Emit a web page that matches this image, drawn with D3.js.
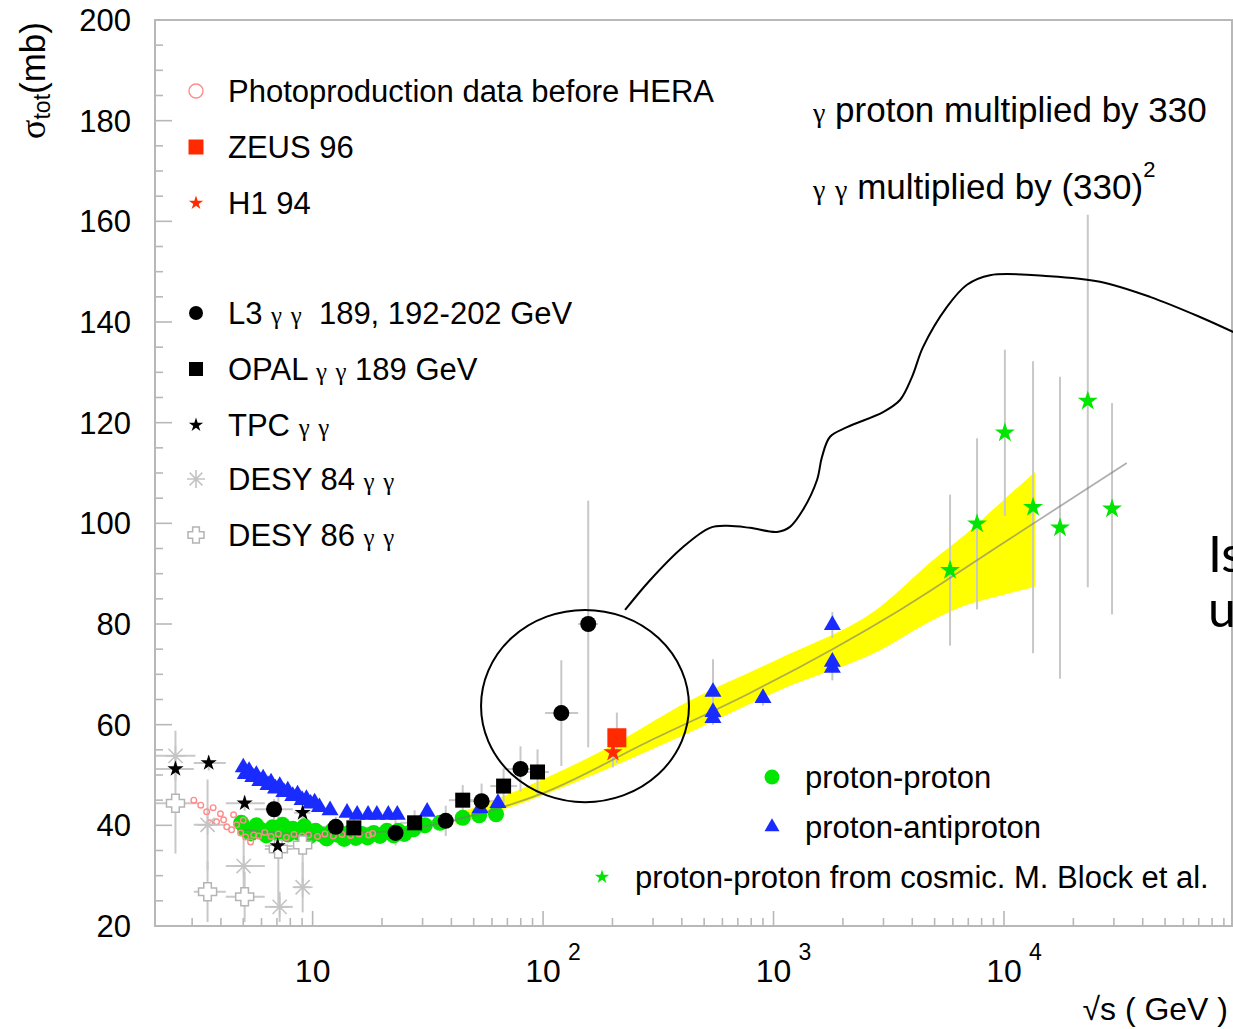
<!DOCTYPE html>
<html>
<head>
<meta charset="utf-8">
<script src="https://cdn.jsdelivr.net/npm/d3@7"></script>
<style>
  html, body { margin: 0; padding: 0; background: #fff; overflow: hidden; }
  svg { display: block; font-family: "Liberation Sans", Arial, Helvetica, sans-serif; }
  text { white-space: pre; }
</style>
</head>
<body>
<div id="chart"></div>
<script>
// ---- data: [sqrt(s) GeV, sigma mb, dSigma, sqrt(s) low, sqrt(s) high] ----
const photoprod = [
  [3.05, 45.0], [3.27, 44.0], [3.47, 42.7], [3.58, 40.5], [3.7, 43.5], [3.83, 40.7],
  [3.98, 42.3], [4.11, 41.1], [4.24, 39.7], [4.45, 39.1], [4.54, 42.1], [4.68, 40.1],
  [4.87, 38.5], [5.0, 41.0], [5.12, 37.7], [5.38, 36.7], [5.55, 38.1], [5.83, 37.9],
  [6.2, 38.6], [6.6, 37.8], [7.1, 38.3], [7.7, 37.6], [8.3, 38.2], [9.0, 37.9],
  [9.6, 38.1], [10.5, 37.8], [11.3, 38.3], [12.3, 37.9], [13.4, 38.2], [14.6, 38.0],
  [15.9, 38.3], [17.5, 38.1], [18.2, 38.4]
];
const zeus96 = [[209, 57.4, 5, 199, 219]];
const h1_94 = [[201, 54.5, 3, 192, 210]];
const l3 = [
  [6.8, 43.2, 2, 5.6, 8.2], [12.6, 39.7, 2, 10.8, 14.8], [22.9, 38.5, 2.5, 19.5, 27],
  [37.8, 40.9, 3, 32, 44], [54.1, 44.8, 3.5, 46, 63], [79.8, 51.2, 4.5, 68, 94],
  [120, 62.3, 10.5, 102, 142], [157, 80.0, 24.5, 142, 173]
];
const opal = [
  [15.1, 39.5, 2, 13, 17.5], [27.7, 40.5, 2.5, 24, 32], [44.8, 45.0, 3, 39, 52],
  [67.4, 47.8, 3.5, 59, 77], [94.6, 50.6, 4.5, 84, 106]
];
const tpc = [
  [2.54, 51.2, 1.5, 2.07, 3.05], [3.54, 52.4, 1.5, 3.05, 4.2], [5.07, 44.4, 1.5, 4.2, 6.2],
  [7.05, 35.9, 2, 6.2, 8.2], [9.05, 42.5, 2, 8.3, 9.8]
];
const desy84 = [
  [2.54, 53.8, 5, 2.07, 3.1], [3.50, 40.1, 9, 3.05, 4.2], [5.02, 31.9, 6, 4.2, 6.2],
  [7.19, 23.8, 3, 6.2, 8.2], [9.05, 27.7, 5, 8.3, 9.8]
];
const desy86 = [
  [2.54, 44.4, 10, 2.07, 3.2], [3.50, 26.8, 6, 3.05, 4.2], [5.07, 25.8, 5, 4.2, 6.2],
  [7.10, 35.3, 11, 6.2, 8.2], [9.05, 36.1, 8, 8.3, 9.8]
];
const protonProton = [
  [4.9, 40.5], [5.1, 39.2], [5.4, 38.4], [5.7, 40.0], [6.0, 39.0], [6.3, 38.0], [6.7, 39.6],
  [7.0, 38.6], [7.4, 40.1], [7.8, 38.2], [8.2, 39.3], [8.7, 38.5], [9.2, 39.8], [9.7, 37.8],
  [10.3, 38.9], [10.9, 38.2], [11.5, 37.4], [12.2, 39.0], [12.9, 38.1], [13.7, 37.3],
  [14.5, 38.6], [15.4, 37.5], [16.3, 38.3], [17.3, 37.6], [18.4, 38.5], [19.6, 37.9],
  [21.0, 38.9], [22.5, 38.0], [23.5, 38.9], [25.0, 38.3], [27.4, 39.2], [30.7, 40.0],
  [35.7, 40.5], [44.8, 41.5], [52.8, 42.0], [62.5, 42.2]
];
const protonAntiproton = [
  [5.0, 51.5], [5.1, 50.2], [5.3, 50.8], [5.5, 49.6], [5.7, 50.0], [5.9, 48.8], [6.1, 49.3],
  [6.4, 48.0], [6.6, 48.5], [6.9, 47.3], [7.2, 47.8], [7.5, 46.6], [7.8, 46.9], [8.2, 45.8],
  [8.6, 46.1], [9.0, 45.0], [9.4, 45.2], [9.8, 44.3], [10.2, 44.5], [10.7, 43.6],
  [11.9, 43.0], [14.1, 42.5], [15.6, 42.1], [17.4, 42.1], [19.0, 42.1], [21.3, 42.1],
  [23.3, 42.1], [31.4, 42.7], [53.3, 43.4], [63.7, 44.4],
  [546, 66.5, 6.5], [546, 62.5, 1.5], [546, 61.3, 1.0], [900, 65.3, 1.5],
  [1800, 79.8, 2.6], [1800, 72.5, 1.0], [1800, 71.3, 2.5]
];
const cosmic = [
  [5834, 90.7, 15], [7640, 99.9, 17], [10090, 118.0, 16.5], [13370, 103.2, 29],
  [17500, 99.1, 30], [23100, 124.3, 37], [29440, 102.9, 21]
];
// fit band and central line
const bandE = [41.5, 87.8, 176.7, 434, 1067, 2897, 4920, 6910, 9608, 13630];
const bandLo = [40.1, 45.0, 50.6, 58.5, 66.9, 74.8, 80.8, 83.8, 85.6, 87.4];
const bandHi = [42.1, 48.0, 54.6, 64.8, 73.2, 83.4, 92.7, 98.1, 104.0, 110.2];
const fitE = [5.09, 8.83, 16.1, 26.5, 41.5, 100, 291, 791, 3538, 10090, 34100];
const fitSigma = [39.1, 38.3, 38.5, 39.3, 41.1, 46.4, 56.8, 66.3, 82.8, 96.3, 112.0];
// hand-drawn annotation (in data coordinates)
const annotationPath = [
  [226.9, 82.8], [291, 88.7], [405, 95.3], [530, 99.1], [628, 99.5], [791, 99.1],
  [1036, 98.3], [1179, 99.3], [1343, 102.7], [1544, 108.6], [1623, 113.2], [1759, 117.2],
  [2084, 119.1], [2987, 122.1], [3538, 124.5], [3990, 129.1], [4453, 135.0], [5657, 143.0],
  [6910, 147.4], [8697, 149.3], [15830, 149.1], [26090, 148.0], [42990, 145.0],
  [70860, 141.0], [105700, 137.4]
];
const circleE = [53.8, 429.6];
const circleSigma = [44.6, 82.8];
// ticks and labels
const yTicks = [20, 40, 60, 80, 100, 120, 140, 160, 180, 200];
const yTickLabels = ['20', '40', '60', '80', '100', '120', '140', '160', '180', '200'];
const xTicks = [10, 100, 1000, 10000];
const xTickExp = ['', '2', '3', '4'];
const legendLeft = [
  'Photoproduction data before HERA', 'ZEUS 96', 'H1 94',
  'L3 γ γ  189, 192-202 GeV', 'OPAL γ γ 189 GeV', 'TPC γ γ', 'DESY 84 γ γ', 'DESY 86 γ γ'
];
const legendRight = ['proton-proton', 'proton-antiproton', 'proton-proton from cosmic. M. Block et al.'];

const W = 1233, H = 1029;
const svg = d3.select('#chart').append('svg').attr('width', W).attr('height', H);

const x = d3.scaleLog().domain([2.07, 97600]).range([155, 1232]);
const y = d3.scaleLinear().domain([20, 200]).range([926, 20]);

const RED = '#ff2a00', GREEN = '#00e600', BLUE = '#1a2bff', GREY = '#c8c8c8';

// marker helpers
const starPath = r => d3.symbol(d3.symbolStar, r * r / 0.8908130915292852)();
const triPath = w => { const h = w / (2 * Math.sqrt(3)); return d3.symbol(d3.symbolTriangle, h * h * 3 * Math.sqrt(3))(); };
const asteriskPath = r => {
  const d = r * 0.7071;
  return `M${-r},0L${r},0M0,${-r}L0,${r}M${-d},${-d}L${d},${d}M${-d},${d}L${d},${-d}`;
};
const openCrossPath = (r, a) =>
  `M${-a},${-r}L${a},${-r}L${a},${-a}L${r},${-a}L${r},${a}L${a},${a}L${a},${r}L${-a},${r}L${-a},${a}L${-r},${a}L${-r},${-a}L${-a},${-a}Z`;

function marker(g, type, cx, cy, s) {
  const t = `translate(${cx},${cy})`;
  switch (type) {
    case 'openCircle':
      g.append('circle').attr('cx', cx).attr('cy', cy).attr('r', s)
        .attr('fill', 'none').attr('stroke', '#ff8c8c').attr('stroke-width', 1.4); break;
    case 'redSquare':
      g.append('rect').attr('x', cx - s / 2).attr('y', cy - s / 2).attr('width', s).attr('height', s).attr('fill', RED); break;
    case 'redStar':
      g.append('path').attr('d', starPath(s)).attr('transform', t).attr('fill', RED); break;
    case 'blackCircle':
      g.append('circle').attr('cx', cx).attr('cy', cy).attr('r', s).attr('fill', '#000'); break;
    case 'blackSquare':
      g.append('rect').attr('x', cx - s / 2).attr('y', cy - s / 2).attr('width', s).attr('height', s).attr('fill', '#000'); break;
    case 'blackStar':
      g.append('path').attr('d', starPath(s)).attr('transform', t).attr('fill', '#000'); break;
    case 'asterisk':
      g.append('path').attr('d', asteriskPath(s)).attr('transform', t)
        .attr('stroke', '#c4c4c4').attr('stroke-width', 1.6).attr('fill', 'none'); break;
    case 'openCross':
      g.append('path').attr('d', openCrossPath(s, s * 0.42)).attr('transform', t)
        .attr('stroke', '#b4b4b4').attr('stroke-width', 1.5).attr('fill', '#fff'); break;
    case 'greenCircle':
      g.append('circle').attr('cx', cx).attr('cy', cy).attr('r', s).attr('fill', GREEN); break;
    case 'blueTriangle':
      g.append('path').attr('d', triPath(s)).attr('transform', t).attr('fill', BLUE); break;
    case 'greenStar':
      g.append('path').attr('d', starPath(s)).attr('transform', t).attr('fill', GREEN); break;
  }
}

function richText(sel, str, size) {
  str.split(/(γ)/).forEach(part => {
    if (!part) return;
    const t = sel.append('tspan').text(part);
    if (part === 'γ') t.style('font-family', '"Liberation Serif", "DejaVu Serif", serif').style('font-size', (size * 0.8) + 'px');
  });
}

// ---- clip to frame ----
svg.append('clipPath').attr('id', 'plot')
  .append('rect').attr('x', 155).attr('y', 20).attr('width', 1077).attr('height', 906);
const plot = svg.append('g').attr('clip-path', 'url(#plot)');

// ---- yellow band ----
const bandData = bandE.map((e, i) => ({ e, lo: bandLo[i], hi: bandHi[i] }));
plot.append('path').datum(bandData)
  .attr('fill', '#ffff00')
  .attr('d', d3.area().x(d => x(d.e)).y0(d => y(d.lo)).y1(d => y(d.hi)).curve(d3.curveMonotoneX));

// ---- error bars ----
const eb = plot.append('g').attr('stroke', GREY).attr('stroke-width', 2);
function errorBars(data) {
  data.forEach(d => {
    if (d[2]) eb.append('line').attr('x1', x(d[0])).attr('x2', x(d[0])).attr('y1', y(d[1] - d[2])).attr('y2', y(d[1] + d[2]));
    if (d[3]) eb.append('line').attr('x1', x(d[3])).attr('x2', x(d[4])).attr('y1', y(d[1])).attr('y2', y(d[1]));
  });
}
[desy86, desy84, tpc, l3, opal, zeus96, h1_94, protonAntiproton, cosmic].forEach(errorBars);

// ---- proton-proton ----
const marks = plot.append('g');
protonProton.forEach(d => marker(marks, 'greenCircle', x(d[0]), y(d[1]), 8));

// ---- fit line ----
plot.append('path').datum(fitE.map((e, i) => [e, fitSigma[i]]))
  .attr('fill', 'none').attr('stroke', '#7a7a7a').attr('stroke-opacity', 0.6).attr('stroke-width', 1.8)
  .attr('d', d3.line().x(d => x(d[0])).y(d => y(d[1])).curve(d3.curveMonotoneX));

const marks2 = plot.append('g');
protonAntiproton.forEach(d => marker(marks2, 'blueTriangle', x(d[0]), y(d[1]), 17));
photoprod.forEach(d => marker(marks2, 'openCircle', x(d[0]), y(d[1]), 2.8));
desy84.forEach(d => marker(marks2, 'asterisk', x(d[0]), y(d[1]), 10));
desy86.forEach(d => marker(marks2, 'openCross', x(d[0]), y(d[1]), 9));
tpc.forEach(d => marker(marks2, 'blackStar', x(d[0]), y(d[1]), 8.5));
l3.forEach(d => marker(marks2, 'blackCircle', x(d[0]), y(d[1]), 8));
opal.forEach(d => marker(marks2, 'blackSquare', x(d[0]), y(d[1]), 15));
zeus96.forEach(d => marker(marks2, 'redSquare', x(d[0]), y(d[1]), 19));
h1_94.forEach(d => marker(marks2, 'redStar', x(d[0]), y(d[1]), 10));
cosmic.forEach(d => marker(marks2, 'greenStar', x(d[0]), y(d[1]), 10.5));

// ---- frame and ticks ----
const axisColor = '#b8b8b8';
svg.append('rect').attr('x', 155).attr('y', 20).attr('width', 1077).attr('height', 906)
  .attr('fill', 'none').attr('stroke', axisColor).attr('stroke-width', 2);

const ticks = svg.append('g').attr('stroke', axisColor).attr('stroke-width', 1.6);
d3.range(20, 201, 5).forEach(v => {
  const len = v % 20 === 0 ? 17 : 8;
  ticks.append('line').attr('x1', 155).attr('x2', 155 + len).attr('y1', y(v)).attr('y2', y(v));
});
[1, 10, 100, 1000, 10000].forEach(dec => {
  d3.range(1, 10).forEach(m => {
    const v = dec * m;
    if (v < x.domain()[0] || v > x.domain()[1]) return;
    const len = m === 1 ? 15 : 8;
    ticks.append('line').attr('x1', x(v)).attr('x2', x(v)).attr('y1', 926).attr('y2', 926 - len);
  });
});

// tick labels
const labelSize = 31;
yTicks.forEach((v, i) => {
  svg.append('text').attr('x', 131).attr('y', y(v)).attr('dy', '0.36em')
    .attr('text-anchor', 'end').style('font-size', labelSize + 'px').text(yTickLabels[i]);
});
xTicks.forEach((v, i) => {
  svg.append('text').attr('x', x(v)).attr('y', 982).attr('text-anchor', 'middle')
    .style('font-size', '32px').text('10');
  if (xTickExp[i]) {
    svg.append('text').attr('x', x(v) + 25).attr('y', 960)
      .style('font-size', '23px').text(xTickExp[i]);
  }
});

// axis titles
svg.append('text').attr('x', 1228).attr('y', 1020).attr('text-anchor', 'end')
  .style('font-size', '32px').text('√s ( GeV )');
const yt = svg.append('text').attr('transform', 'translate(45,22) rotate(-90)').attr('text-anchor', 'end')
  .style('font-size', '35px');
yt.append('tspan').style('font-family', '"Liberation Serif", serif').style('font-size', '36px').text('σ');
yt.append('tspan').attr('dy', 5).style('font-size', '23px').text('tot');
yt.append('tspan').attr('dy', -5).text('(mb)');

// ---- legends ----
const leftTypes = ['openCircle', 'redSquare', 'redStar', 'blackCircle', 'blackSquare', 'blackStar', 'asterisk', 'openCross'];
const leftSizes = [7, 15, 7.5, 7, 14, 7.5, 9, 8];
const leftRows = [91, 147, 203, 313, 369, 425, 479, 535];
const leg = svg.append('g');
legendLeft.forEach((label, i) => {
  marker(leg, leftTypes[i], 196, leftRows[i], leftSizes[i]);
  const t = leg.append('text').attr('x', 228).attr('y', leftRows[i] + 11).style('font-size', '31px');
  richText(t, label, 31);
});
const rightTypes = ['greenCircle', 'blueTriangle', 'greenStar'];
const rightSizes = [7.5, 15, 7.5];
const rightX = [772, 772, 602];
const rightRows = [777, 827, 877];
legendRight.forEach((label, i) => {
  marker(leg, rightTypes[i], rightX[i], rightRows[i], rightSizes[i]);
  leg.append('text').attr('x', rightX[i] + 33).attr('y', rightRows[i] + 11).style('font-size', '31px').text(label);
});

const n1 = svg.append('text').attr('x', 813).attr('y', 122).style('font-size', '35px');
richText(n1, 'γ proton multiplied by 330', 35);
const n2 = svg.append('text').attr('x', 813).attr('y', 199).style('font-size', '35px');
richText(n2, 'γ γ multiplied by (330)', 35);
n2.append('tspan').attr('dy', -22).style('font-size', '22px').text('2');

// ---- hand-drawn annotations ----
const ann = svg.append('g').attr('fill', 'none').attr('stroke', '#000').attr('stroke-width', 2);
ann.append('ellipse')
  .attr('cx', (x(circleE[0]) + x(circleE[1])) / 2).attr('cy', (y(circleSigma[0]) + y(circleSigma[1])) / 2)
  .attr('rx', (x(circleE[1]) - x(circleE[0])) / 2).attr('ry', (y(circleSigma[0]) - y(circleSigma[1])) / 2);
ann.append('path').datum(annotationPath)
  .attr('d', d3.line().x(d => x(d[0])).y(d => y(d[1])).curve(d3.curveCatmullRom));

// slide text fragments partly outside the picture
svg.append('text').attr('x', 1208).attr('y', 572).style('font-family', 'Lato, "Open Sans", sans-serif')
  .style('font-size', '50px').text('Is');
svg.append('text').attr('x', 1208).attr('y', 627).style('font-family', 'Lato, "Open Sans", sans-serif')
  .style('font-size', '50px').text('u');
</script>
</body>
</html>
